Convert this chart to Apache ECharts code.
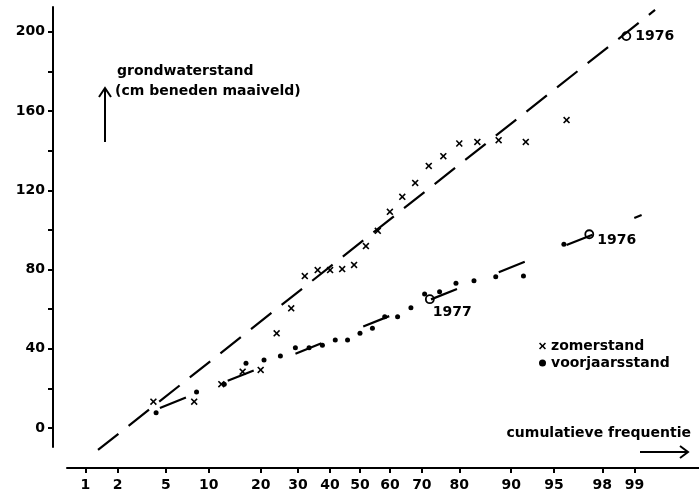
<!DOCTYPE html>
<html>
<head>
<meta charset="utf-8">
<script src="https://cdn.jsdelivr.net/npm/echarts@6/dist/echarts.min.js"></script>
<style>
  html, body { margin: 0; padding: 0; background: #fff; }
  #chart { width: 699px; height: 499px; }
</style>
</head>
<body>
<div id="chart"></div>
<script>
// asstrepen
const freqTicks = [1, 2, 5, 10, 20, 30, 40, 50, 60, 70, 80, 90, 95, 98, 99];
const levelTicks = [0, 20, 40, 60, 80, 100, 120, 140, 160, 180, 200];
const levelLabels = [0, 40, 80, 120, 160, 200];

// zomerstand (x)
const zomerFreq = [4, 8, 12, 16, 20, 24, 28, 32, 36, 40, 44, 48, 52, 56, 60, 64, 68, 72, 76, 80, 84, 88, 92, 96];
const zomerLevel = [13.3, 13.3, 22.1, 28.4, 29.3, 47.8, 60.4, 76.7, 79.7, 79.7, 80.2, 82.3, 91.8, 99.5,
  109.1, 116.7, 123.7, 132.3, 137.2, 143.6, 144.4, 145.3, 144.4, 155.4];

// voorjaarsstand (.)
const voorjaarFreq = [4.2, 8.3, 12.5, 16.7, 20.8, 25, 29.2, 33.3, 37.5, 41.7, 45.8, 50, 54.2, 58.3,
  62.5, 66.7, 70.8, 75, 79.2, 83.3, 87.5, 91.7, 95.8];
const voorjaarLevel = [7.7, 18.2, 22.1, 32.7, 34.3, 36.3, 40.5, 40.5, 41.7, 44.4, 44.4, 47.8, 50.3, 56.2,
  56.2, 60.7, 67.6, 68.8, 73.0, 74.3, 76.4, 76.7, 92.7];

// losse jaren (o)
const jaarNaam = ['1976', '1976', '1977'];
const jaarFreq = [98.8, 97.4, 72.3];
const jaarLevel = [197.8, 97.8, 65.0];

// getrokken lijnen
const zomerLijnFreq = [1.32, 99.38];
const zomerLijnLevel = [-11.1, 211];
const voorjaarLijnFreq = [4.5, 99.15];
const voorjaarLijnLevel = [10.1, 107.5];

// inverse normale verdeling (Acklam)
function probit(p) {
  const a = [-3.969683028665376e+01, 2.209460984245205e+02, -2.759285104469687e+02, 1.383577518672690e+02, -3.066479806614716e+01, 2.506628277459239e+00];
  const b = [-5.447609879822406e+01, 1.615858368580409e+02, -1.556989798598866e+02, 6.680131188771972e+01, -1.328068155288572e+01];
  const c = [-7.784894002430293e-03, -3.223964580411365e-01, -2.400758296779830e+00, -2.549732518549430e+00, 4.374664141464968e+00, 2.938163982698783e+00];
  const d = [7.784695709041462e-03, 3.224671290700398e-01, 2.445134137142996e+00, 3.754408661907416e+00];
  const pl = 0.02425;
  let q, r;
  if (p < pl) {
    q = Math.sqrt(-2 * Math.log(p));
    return (((((c[0] * q + c[1]) * q + c[2]) * q + c[3]) * q + c[4]) * q + c[5]) / ((((d[0] * q + d[1]) * q + d[2]) * q + d[3]) * q + 1);
  }
  if (p > 1 - pl) {
    q = Math.sqrt(-2 * Math.log(1 - p));
    return -(((((c[0] * q + c[1]) * q + c[2]) * q + c[3]) * q + c[4]) * q + c[5]) / ((((d[0] * q + d[1]) * q + d[2]) * q + d[3]) * q + 1);
  }
  q = p - 0.5;
  r = q * q;
  return (((((a[0] * r + a[1]) * r + a[2]) * r + a[3]) * r + a[4]) * r + a[5]) * q / (((((b[0] * r + b[1]) * r + b[2]) * r + b[3]) * r + b[4]) * r + 1);
}
const z = pct => probit(pct / 100);
const pairs = (xs, ys) => xs.map((v, i) => [z(v), ys[i]]);

const FONT = 'DejaVu Sans';
const crossPath = 'path://M0,1.6L1.6,0L5,3.4L8.4,0L10,1.6L6.6,5L10,8.4L8.4,10L5,6.6L1.6,10L0,8.4L3.4,5Z';
const jaarLabel = [
  { position: 'right', distance: 4, offset: [0, 0] },
  { position: 'right', distance: 3, offset: [0, 6] },
  { position: 'right', distance: 3, offset: [-5, 13] }
];

const chart = echarts.init(document.getElementById('chart'));

chart.setOption({
  animation: false,
  backgroundColor: '#fff',
  textStyle: { fontFamily: FONT, color: '#000' },
  grid: { left: 67, right: 0, top: 7, bottom: 52 },
  xAxis: {
    type: 'value',
    min: -2.483,
    max: 2.873,
    position: 'bottom',
    offset: 21,
    axisLine: { show: true, onZero: false, lineStyle: { color: '#000', width: 2 } },
    axisTick: { show: true, customValues: freqTicks.map(z), length: 5, lineStyle: { color: '#000', width: 2 } },
    axisLabel: {
      customValues: freqTicks.map(z),
      margin: 10,
      fontSize: 14,
      fontWeight: 'bold',
      color: '#000',
      formatter: v => {
        let best = freqTicks[0];
        freqTicks.forEach(t => { if (Math.abs(z(t) - v) < Math.abs(z(best) - v)) best = t; });
        return String(best);
      }
    },
    splitLine: { show: false }
  },
  yAxis: {
    type: 'value',
    min: -9.6,
    max: 212.5,
    offset: 14,
    axisLine: { show: true, onZero: false, lineStyle: { color: '#000', width: 2 } },
    axisTick: { show: true, customValues: levelTicks, length: 5, lineStyle: { color: '#000', width: 2 } },
    axisLabel: { customValues: levelLabels, margin: 8, fontSize: 14, fontWeight: 'bold', color: '#000' },
    splitLine: { show: false }
  },
  legend: {
    orient: 'vertical',
    left: 534,
    top: 334,
    itemWidth: 7,
    itemHeight: 7,
    itemGap: 3,
    textStyle: { fontFamily: FONT, fontSize: 14, fontWeight: 'bold', color: '#000' },
    data: ['zomerstand', 'voorjaarsstand']
  },
  series: [
    {
      name: 'zomerlijn',
      type: 'line',
      data: pairs(zomerLijnFreq, zomerLijnLevel),
      showSymbol: false,
      clip: false,
      silent: true,
      lineStyle: { color: '#000', width: 2.2, type: [26, 13] }
    },
    {
      name: 'voorjaarlijn',
      type: 'line',
      data: pairs(voorjaarLijnFreq, voorjaarLijnLevel),
      showSymbol: false,
      clip: false,
      silent: true,
      lineStyle: { color: '#000', width: 2.2, type: [28, 45] }
    },
    {
      name: 'zomerstand',
      type: 'scatter',
      data: pairs(zomerFreq, zomerLevel),
      symbol: crossPath,
      symbolSize: 7,
      itemStyle: { color: '#000', opacity: 1 }
    },
    {
      name: 'voorjaarsstand',
      type: 'scatter',
      data: pairs(voorjaarFreq, voorjaarLevel),
      symbol: 'circle',
      symbolSize: 5,
      itemStyle: { color: '#000', opacity: 1 }
    },
    {
      name: 'jaren',
      type: 'scatter',
      symbol: 'circle',
      symbolSize: 8,
      itemStyle: { color: '#fff', borderColor: '#000', borderWidth: 1.8, opacity: 1 },
      data: jaarNaam.map((n, i) => ({
        value: [z(jaarFreq[i]), jaarLevel[i]],
        label: Object.assign({ show: true, formatter: n }, jaarLabel[i])
      })),
      label: { fontFamily: FONT, fontSize: 14, fontWeight: 'bold', color: '#000' }
    }
  ],
  graphic: [
    {
      type: 'text', left: 117, top: 64,
      style: { text: 'grondwaterstand', font: 'bold 14px "DejaVu Sans"', fill: '#000' }
    },
    {
      type: 'text', left: 115, top: 84,
      style: { text: '(cm beneden maaiveld)', font: 'bold 14px "DejaVu Sans"', fill: '#000' }
    },
    {
      type: 'polyline', shape: { points: [[105, 142], [105, 89]] },
      style: { stroke: '#000', lineWidth: 2, fill: null }
    },
    {
      type: 'polyline', shape: { points: [[99, 97], [105, 88], [111, 97]] },
      style: { stroke: '#000', lineWidth: 2, fill: null }
    },
    {
      type: 'text', right: 8, top: 426,
      style: { text: 'cumulatieve frequentie', font: 'bold 14px "DejaVu Sans"', fill: '#000' }
    },
    {
      type: 'polyline', shape: { points: [[640, 452], [688, 452]] },
      style: { stroke: '#000', lineWidth: 2, fill: null }
    },
    {
      type: 'polyline', shape: { points: [[680, 446], [688, 452], [680, 458]] },
      style: { stroke: '#000', lineWidth: 2, fill: null }
    }
  ]
});
</script>
</body>
</html>
